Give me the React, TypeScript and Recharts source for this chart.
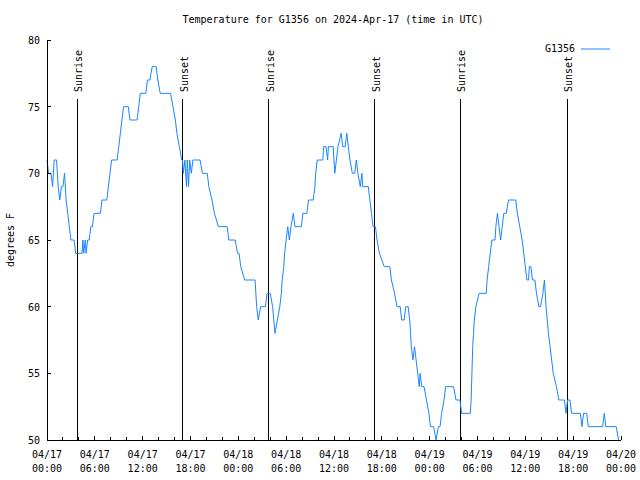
import React from 'react';
import { LineChart, Line, XAxis, YAxis, ReferenceLine } from 'recharts';

// hours since 2024-04-17 00:00 UTC
const hours = [
  0.0, 0.2, 0.5, 0.7, 0.9, 1.2, 1.4, 1.6, 1.8, 2.0, 2.2, 2.4, 2.6, 2.8, 3.0, 3.4, 3.6, 3.8, 4.4, 4.5,
  4.6, 4.8, 4.9, 5.1, 5.3, 5.5, 5.7, 5.9, 6.7, 6.9, 7.5, 7.7, 7.9, 8.1, 8.8, 9.0, 9.2, 9.4, 9.6, 10.2,
  10.4, 11.3, 11.5, 11.7, 12.4, 12.6, 12.9, 13.2, 13.7, 13.9, 14.2, 15.5, 15.8, 16.1, 16.3, 16.6, 16.9, 17.0, 17.1, 17.3,
  17.5, 17.6, 17.75, 17.9, 18.1, 18.3, 18.5, 19.2, 19.5, 20.1, 20.3, 20.7, 21.0, 21.5, 22.6, 22.8, 23.6, 23.9, 24.1, 24.3,
  24.8, 26.1, 26.3, 26.5, 26.8, 27.4, 27.6, 28.0, 28.3, 28.6, 28.9, 29.2, 29.4, 29.5, 29.7, 29.8, 30.0, 30.2, 30.4, 30.6,
  30.9, 31.1, 31.9, 32.1, 32.6, 32.8, 33.4, 33.6, 33.7, 33.9, 34.6, 34.7, 35.0, 35.2, 35.3, 35.9, 36.1, 36.3, 36.5, 36.9,
  37.1, 37.4, 37.6, 37.8, 38.0, 38.3, 38.6, 38.8, 39.0, 39.3, 39.5, 39.6, 40.3, 40.5, 40.7, 40.9, 41.2, 41.4, 41.7, 42.3,
  43.0, 43.2, 43.6, 43.9, 44.3, 44.5, 44.8, 45.0, 45.3, 45.5, 45.6, 45.7, 45.9, 46.1, 46.3, 46.5, 46.7, 46.8, 47.0, 47.3,
  47.6, 47.9, 48.1, 48.5, 48.8, 49.1, 49.3, 49.5, 49.8, 50.0, 51.0, 51.3, 51.8, 52.0, 53.1, 53.2, 53.3, 53.4, 53.5, 53.6,
  53.8, 54.2, 55.1, 55.2, 55.4, 55.6, 55.8, 56.2, 56.3, 56.5, 56.7, 56.9, 57.1, 57.3, 57.6, 57.9, 58.8, 59.0, 59.3, 59.6,
  59.8, 60.0, 60.2, 60.4, 60.5, 60.7, 60.9, 61.2, 61.4, 61.7, 61.9, 62.2, 62.4, 62.6, 62.9, 63.1, 63.3, 63.5, 63.9, 64.2,
  64.4, 64.9, 65.1, 65.3, 65.6, 65.8, 66.9, 67.1, 67.3, 67.7, 67.9, 69.7, 69.9, 70.1, 71.4, 71.7,
];

// degrees F
const temps = [
  71, 70, 70, 69, 71, 71, 69, 68, 69, 69, 70, 68, 67, 66, 65, 65, 64, 64, 64, 65,
  64, 65, 64, 65, 65, 66, 66, 67, 67, 68, 68, 69, 70, 71, 71, 72, 73, 74, 75, 75,
  74, 74, 75, 76, 76, 77, 77, 78, 78, 77, 76, 76, 75, 74, 73, 72, 71, 71, 70, 71,
  69, 71, 69, 71, 70, 71, 71, 71, 70, 70, 69, 68, 67, 66, 66, 65, 65, 64, 64, 63,
  62, 62, 60, 59, 60, 60, 61, 61, 60, 58, 59, 60, 61, 62, 63, 64, 65, 66, 65, 66,
  67, 66, 66, 67, 67, 68, 68, 69, 70, 71, 71, 72, 72, 71, 72, 72, 70, 71, 72, 73,
  72, 72, 73, 72, 71, 70, 70, 71, 70, 69, 70, 69, 69, 68, 67, 66, 66, 65, 64, 63,
  63, 62, 61, 60, 60, 59, 59, 60, 60, 59, 58, 57, 56, 57, 56, 55, 54, 55, 54, 54,
  53, 52, 51, 51, 50, 51, 51, 52, 53, 54, 54, 53, 53, 52, 52, 53, 55, 57, 58, 59,
  60, 61, 61, 62, 63, 64, 65, 65, 66, 67, 66, 65, 66, 67, 67, 68, 68, 67, 66, 65,
  64, 63, 62, 62, 63, 63, 62, 62, 61, 60, 60, 61, 62, 60, 58, 57, 56, 55, 54, 53,
  53, 53, 52, 53, 53, 52, 52, 51, 52, 52, 51, 51, 52, 51, 51, 50,
];

const sunriseHours = [3.8, 27.8, 51.85];
const sunsetHours = [17.0, 41.1, 65.25];

const xTicks = [
  0, 2, 4, 6, 8, 10, 12, 14, 16, 18, 20, 22, 24, 26, 28, 30, 32, 34, 36,
  38, 40, 42, 44, 46, 48, 50, 52, 54, 56, 58, 60, 62, 64, 66, 68, 70, 72,
];
const majorTicks = [0, 6, 12, 18, 24, 30, 36, 42, 48, 54, 60, 66, 72];
const dayLabels = ['04/17', '04/17', '04/17', '04/17', '04/18', '04/18', '04/18', '04/18', '04/19', '04/19', '04/19', '04/19', '04/20'];
const timeLabels = ['00:00', '06:00', '12:00', '18:00', '00:00', '06:00', '12:00', '18:00', '00:00', '06:00', '12:00', '18:00', '00:00'];
const yTicks = [50, 55, 60, 65, 70, 75, 80];

const data = hours.map((h, i) => ({ h, t: temps[i] }));

const FONT = '"DejaVu Sans Mono", monospace';
const LINE_COLOR = '#1a85ff';

const BottomTick = ({ x, y, payload }: any) => {
  const i = majorTicks.indexOf(payload.value);
  const major = i >= 0;
  return (
    <g>
      <line x1={x} y1={y} x2={x} y2={y - (major ? 4 : 3)} stroke="#000" shapeRendering="crispEdges" />
      {major && (
        <text x={x} y={y + 18} textAnchor="middle" fontFamily={FONT} fontSize={10} fill="#000">
          {dayLabels[i]}
        </text>
      )}
      {major && (
        <text x={x} y={y + 32} textAnchor="middle" fontFamily={FONT} fontSize={10} fill="#000">
          {timeLabels[i]}
        </text>
      )}
    </g>
  );
};

const TopTick = ({ x, y, payload }: any) => {
  const major = majorTicks.includes(payload.value);
  return <line x1={x} y1={y} x2={x} y2={y + (major ? 4 : 3)} stroke="#000" shapeRendering="crispEdges" />;
};

const LeftTick = ({ x, y, payload }: any) => (
  <g>
    <line x1={x} y1={y} x2={x + 4} y2={y} stroke="#000" shapeRendering="crispEdges" />
    <text x={x - 7} y={y + 4} textAnchor="end" fontFamily={FONT} fontSize={10} fill="#000">
      {payload.value}
    </text>
  </g>
);

const RightTick = ({ x, y }: any) => (
  <line x1={x} y1={y} x2={x - 4} y2={y} stroke="#000" shapeRendering="crispEdges" />
);

const sunShape = (text: string) => (props: any) => {
  const { x1, y1, x2, y2 } = props;
  return (
    <g>
      <line x1={x1} y1={y1} x2={x2} y2={y2} stroke="#000" strokeWidth={1} shapeRendering="crispEdges" />
      <text
        x={x1 + 5}
        y={92}
        transform={`rotate(-90 ${x1 + 5} 92)`}
        fontFamily={FONT}
        fontSize={10}
        fill="#000"
      >
        {text}
      </text>
    </g>
  );
};

const frameLine = { stroke: '#000', shapeRendering: 'crispEdges' } as any;

export default function App() {
  return (
    <div style={{ position: 'absolute', left: 0, top: 0, width: 640, height: 480, background: '#fff' }}>
      <LineChart width={640} height={480} data={data} margin={{ top: 40, right: 19, bottom: 0, left: 0 }}>
        <XAxis
          dataKey="h"
          type="number"
          domain={[0, 72]}
          ticks={xTicks}
          interval={0}
          height={40}
          tickSize={0}
          tickMargin={0}
          tickLine={false}
          axisLine={frameLine}
          tick={<BottomTick />}
        />
        <XAxis
          xAxisId="top"
          orientation="top"
          dataKey="h"
          type="number"
          domain={[0, 72]}
          ticks={xTicks}
          interval={0}
          height={0}
          tickSize={0}
          tickMargin={0}
          tickLine={false}
          axisLine={frameLine}
          tick={<TopTick />}
        />
        <YAxis
          type="number"
          domain={[50, 80]}
          ticks={yTicks}
          interval={0}
          width={47}
          tickSize={0}
          tickMargin={0}
          tickLine={false}
          axisLine={frameLine}
          tick={<LeftTick />}
        />
        <YAxis
          yAxisId="right"
          orientation="right"
          type="number"
          domain={[50, 80]}
          ticks={yTicks}
          interval={0}
          width={0}
          tickSize={0}
          tickMargin={0}
          tickLine={false}
          axisLine={frameLine}
          tick={<RightTick />}
        />
        {sunriseHours.map((h) => (
          <ReferenceLine
            key={`rise-${h}`}
            segment={[{ x: h, y: 75.6 }, { x: h, y: 50 }]}
            shape={sunShape('Sunrise')}
            ifOverflow="visible"
          />
        ))}
        {sunsetHours.map((h) => (
          <ReferenceLine
            key={`set-${h}`}
            segment={[{ x: h, y: 75.6 }, { x: h, y: 50 }]}
            shape={sunShape('Sunset')}
            ifOverflow="visible"
          />
        ))}
        <Line
          type="linear"
          dataKey="t"
          stroke={LINE_COLOR}
          strokeWidth={1}
          dot={false}
          activeDot={false}
          isAnimationActive={false}
        />
      </LineChart>
      <svg
        width={640}
        height={480}
        style={{ position: 'absolute', left: 0, top: 0, pointerEvents: 'none' }}
      >
        <text x={333} y={23} textAnchor="middle" fontFamily={FONT} fontSize={10} fill="#000">
          Temperature for G1356 on 2024-Apr-17 (time in UTC)
        </text>
        <text
          x={14}
          y={240}
          textAnchor="middle"
          transform="rotate(-90 14 240)"
          fontFamily={FONT}
          fontSize={10}
          fill="#000"
        >
          degrees F
        </text>
        <text x={575} y={52} textAnchor="end" fontFamily={FONT} fontSize={10} fill="#000">
          G1356
        </text>
        <line x1={581} y1={49} x2={610} y2={49} stroke={LINE_COLOR} strokeWidth={1} />
      </svg>
    </div>
  );
}
